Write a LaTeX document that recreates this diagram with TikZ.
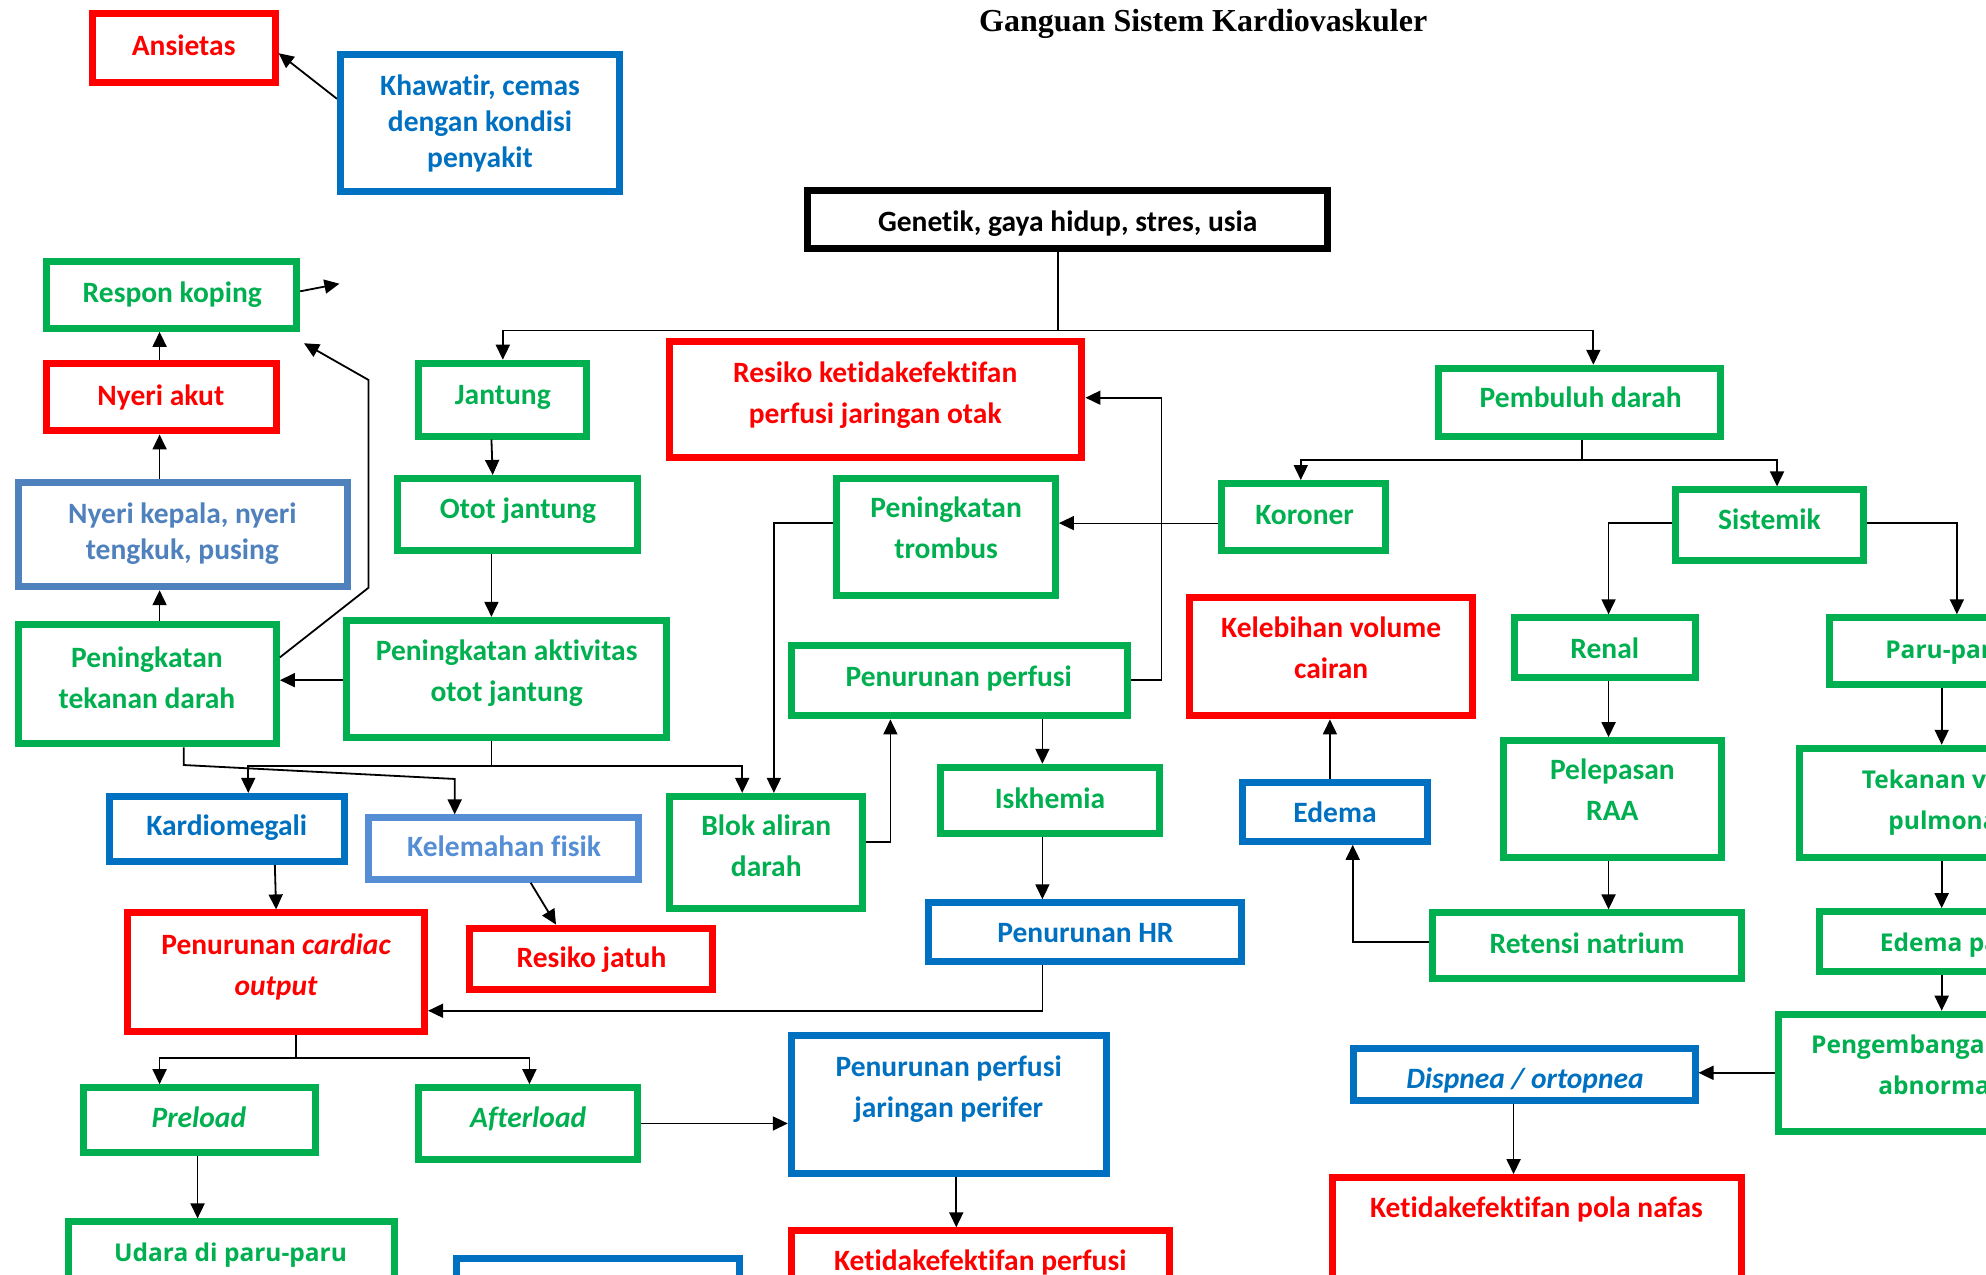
\documentclass[tikz,border=0pt]{standalone}
\usepackage{fontspec}
\setmainfont{Carlito}[Ligatures=NoCommon]
\newfontfamily\titlefont{Liberation Serif}
\newfontfamily\osfont{Open Sans}[Ligatures=NoCommon]
\usetikzlibrary{arrows.meta}
\definecolor{cred}{HTML}{FF0000}
\definecolor{cgreen}{HTML}{00B050}
\definecolor{cblue}{HTML}{0070C0}
\definecolor{clblue}{HTML}{4F81BD}
\definecolor{clbluetwo}{HTML}{558ED5}
% #7,#8: centre x and the y of the LAST text line
\newcommand{\bx}[9]{%
  \node[boxst=#2, minimum width={(#5-#3)*1.2666pt-7pt}, minimum height={(#6-#4)*1.2666pt-7pt}] (#1) at ({(#3+#5)/2},{(#4+#6)/2}) {};
  \node[curtxt, text=#2] (#1-t) at ({#7},{#8+8}) {#9};}
\begin{document}
\begin{tikzpicture}[x=1.2666pt,y=-1.2666pt,
  boxst/.style={draw=#1, line width=7pt, rectangle, inner sep=0pt},
  txtA/.style={anchor=base, align=center, inner sep=0pt, font=\fontsize{29.5}{36}\selectfont\bfseries},
  txtB/.style={anchor=base, align=center, inner sep=0pt, font=\fontsize{29.5}{41}\selectfont\bfseries},
  txtO/.style={anchor=base, align=center, inner sep=0pt, font=\osfont\fontsize{24.5}{41}\selectfont\bfseries},
  curtxt/.style={txtB},
  arr/.style={-{Triangle[length=15pt,width=14pt]}, line width=1.8pt, black},
  ln/.style={line width=1.8pt, black}]
\useasboundingbox (0,0) rectangle (1568,1006);
\clip (0,0) rectangle (1568,1006);
\fill[white] (0,0) rectangle (1568,1006);

\node[font=\titlefont\bfseries\fontsize{32}{38}\selectfont, anchor=base, inner sep=0pt] (title) at (950,25) {Ganguan Sistem Kardiovaskuler};

% ---- boxes with tight line spacing
\tikzset{curtxt/.style={txtA}}
\bx{khawatir}{cblue}{266}{40}{492}{154}{379}{124}{Khawatir, cemas\\dengan kondisi\\penyakit}
\bx{nyerikep}{clblue}{12}{378}{277}{466}{144}{434}{Nyeri kepala, nyeri\\tengkuk, pusing}

% ---- boxes with normal line spacing
\tikzset{curtxt/.style={txtB}}
\bx{ansietas}{cred}{70}{8}{220}{68}{145}{36}{Ansietas}
\bx{genetik}{black}{635}{148}{1051}{199}{843}{175}{Genetik, gaya hidup, stres, usia}
\bx{respon}{cgreen}{34}{204}{237}{262}{136}{231}{Respon koping}
\bx{nyeriakut}{cred}{34}{284}{221}{343}{127}{312}{Nyeri akut}
\bx{tekanan}{cgreen}{12}{490}{221}{590}{116}{551}{Peningkatan\\tekanan darah}
\bx{jantung}{cgreen}{328}{284}{466}{347}{397}{311}{Jantung}
\bx{otot}{cgreen}{311}{375}{506}{437}{409}{401}{Otot jantung}
\bx{aktivitas}{cgreen}{271}{487}{529}{585}{400}{546}{Peningkatan aktivitas\\otot jantung}
\bx{resikootak}{cred}{526}{267}{857}{364}{691}{326}{Resiko ketidakefektifan\\perfusi jaringan otak}
\bx{trombus}{cgreen}{658}{375}{836}{473}{747}{433}{Peningkatan\\trombus}
\bx{koroner}{cgreen}{962}{379}{1097}{437}{1030}{406}{Koroner}
\bx{pembuluh}{cgreen}{1133}{288}{1361}{347}{1248}{314}{Pembuluh darah}
\bx{sistemik}{cgreen}{1320}{384}{1474}{445}{1397}{410}{Sistemik}
\bx{penperfusi}{cgreen}{622}{507}{893}{568}{757}{534}{Penurunan perfusi}
\bx{kelebihan}{cred}{936}{469}{1165}{568}{1051}{528}{Kelebihan volume\\cairan}
\bx{renal}{cgreen}{1193}{485}{1341}{538}{1267}{512}{Renal}
\bx{pelepasan}{cgreen}{1184}{582}{1362}{680}{1273}{640}{Pelepasan\\RAA}
\bx{retensi}{cgreen}{1128}{718}{1378}{775}{1253}{745}{Retensi natrium}
\bx{edema}{cblue}{978}{615}{1130}{667}{1054}{641}{Edema}
\bx{blok}{cgreen}{526}{626}{684}{720}{605}{684}{Blok aliran\\darah}
\bx{iskhemia}{cgreen}{740}{603}{918}{661}{829}{630}{Iskhemia}
\bx{penhr}{cblue}{730}{710}{983}{762}{857}{736}{Penurunan HR}
\bx{kardio}{cblue}{84}{626}{275}{683}{179}{652}{Kardiomegali}
\bx{kelemahan}{clbluetwo}{288}{643}{507}{697}{398}{668}{Kelemahan fisik}
\bx{jatuh}{cred}{368}{730}{565}{784}{467}{756}{Resiko jatuh}
\bx{cardiac}{cred}{98}{718}{338}{817}{218}{778}{Penurunan \textit{cardiac}\\\textit{output}}
\bx{preload}{cgreen}{63}{856}{252}{913}{157}{882}{\textit{Preload}}
\bx{afterload}{cgreen}{328}{856}{506}{918}{417}{882}{\textit{Afterload}}
\bx{perifer}{cblue}{622}{815}{876}{929}{749}{874}{Penurunan perfusi\\jaringan perifer}
\bx{dispnea}{cblue}{1066}{825}{1341}{872}{1204}{851}{\textit{Dispnea / ortopnea}}
\bx{polanafas}{cred}{1049}{927}{1378}{1040}{1213}{953}{Ketidakefektifan pola nafas}
\bx{perfusibot}{cred}{622}{969}{926}{1040}{774}{995}{Ketidakefektifan perfusi}
\bx{bluebot}{cblue}{358}{991}{587}{1040}{472}{1030}{}

% ---- boxes in the wider face
\tikzset{curtxt/.style={txtO}}
\bx{paru}{cgreen}{1442}{485}{1640}{543}{1537}{512}{Paru-paru}
\bx{tekvena}{cgreen}{1418}{588}{1660}{680}{1537}{647}{Tekanan vena\\pulmonal}
\bx{edemaparu}{cgreen}{1434}{717}{1650}{770}{1542}{743}{Edema paru}
\bx{pengembangan}{cgreen}{1401}{798}{1660}{896}{1530}{856}{Pengembangan paru\\abnormal}
\bx{udara}{cgreen}{51}{962}{314}{1040}{182}{988}{Udara di paru-paru}

% ---- split points and free ends
\coordinate (respfree) at (268,224);
\coordinate (gsplit) at (835,261);
\coordinate (aksplit) at (388,605);
\coordinate (cosplit) at (234,835);
\coordinate (pbsplit) at (1249,363);

% ---- connectors
\draw[arr] (khawatir.west |- 0,78) -- (ansietas.east |- 0,42);
\draw[arr] (respon.east |- 0,230) -- (respfree);
\draw[arr] (nyeriakut.north -| 126,0) -- (respon.south -| 126,0);
\draw[arr] (nyerikep.north -| 126,0) -- (nyeriakut.south -| 126,0);
\draw[arr] (tekanan.north -| 126,0) -- (nyerikep.south -| 126,0);
\draw[arr] (tekanan.east |- 0,519) -- (291,464) -- (291,300) -- ([shift={(3,9)}]respon.south east);
\draw[arr] (aktivitas.west |- 0,537) -- (tekanan.east |- 0,537);
\draw[arr] (jantung.south -| 388,0) -- (otot.north -| 389,0);
\draw[arr] (otot.south -| 388,0) -- (aktivitas.north -| 388,0);
\draw[ln] (genetik.south -| 835,0) -- (gsplit);
\draw[arr] (gsplit) -| (jantung.north);
\draw[arr] (gsplit) -| (pembuluh.north -| 1258,0);
\draw[ln] (aktivitas.south -| 388,0) -- (aksplit);
\draw[arr] (aksplit) -| (kardio.north -| 196,0);
\draw[arr] (aksplit) -| (blok.north -| 586,0);
\draw[arr] (tekanan.south -| 145,0) -- (145,604) -- (359,615) -- (kelemahan.north -| 359,0);
\draw[arr] (kardio.south -| 217,0) -- (cardiac.north -| 218,0);
\draw[arr] (kelemahan.south -| 419,0) -- (jatuh.north -| 439,0);
\draw[arr] (penhr.south -| 823,0) |- (cardiac.east |- 0,798);
\draw[ln] (cardiac.south -| 234,0) -- (cosplit);
\draw[arr] (cosplit) -| (preload.north -| 126,0);
\draw[arr] (cosplit) -| (afterload.north -| 418,0);
\draw[arr] (preload.south -| 156,0) -- (udara.north -| 156,0);
\draw[arr] (afterload.east |- 0,887) -- (perifer.west |- 0,887);
\draw[arr] (perifer.south -| 755,0) -- (perfusibot.north -| 755,0);
\draw[arr, line width=1.2pt] (koroner.west |- 0,413) -- (trombus.east |- 0,413);
\draw[arr] (trombus.west |- 0,413) -| (blok.north -| 611,0);
\draw[arr] (blok.east |- 0,665) -| (penperfusi.south -| 703,0);
\draw[arr] (penperfusi.east |- 0,537) -- (917,537) |- (resikootak.east |- 0,314);
\draw[arr] (penperfusi.south -| 823,0) -- (iskhemia.north -| 823,0);
\draw[arr] (iskhemia.south -| 823,0) -- (penhr.north -| 823,0);
\draw[ln] (pembuluh.south -| 1249,0) -- (pbsplit);
\draw[arr] (pbsplit) -| (koroner.north -| 1027,0);
\draw[arr] (pbsplit) -| (sistemik.north -| 1403,0);
\draw[arr] (sistemik.west |- 0,413) -| (renal.north -| 1270,0);
\draw[arr] (sistemik.east |- 0,413) -| (paru.north -| 1545,0);
\draw[arr] (renal.south -| 1270,0) -- (pelepasan.north -| 1270,0);
\draw[arr] (pelepasan.south -| 1270,0) -- (retensi.north -| 1270,0);
\draw[arr] (retensi.west |- 0,744) -| (edema.south -| 1068,0);
\draw[arr] (edema.north -| 1050,0) -- (kelebihan.south -| 1050,0);
\draw[arr] (paru.south -| 1533,0) -- (tekvena.north -| 1533,0);
\draw[arr] (tekvena.south -| 1533,0) -- (edemaparu.north -| 1533,0);
\draw[arr] (edemaparu.south -| 1533,0) -- (pengembangan.north -| 1533,0);
\draw[arr] (pengembangan.west |- 0,847) -- (dispnea.east |- 0,847);
\draw[arr] (dispnea.south -| 1195,0) -- (polanafas.north -| 1195,0);
\end{tikzpicture}
\end{document}
